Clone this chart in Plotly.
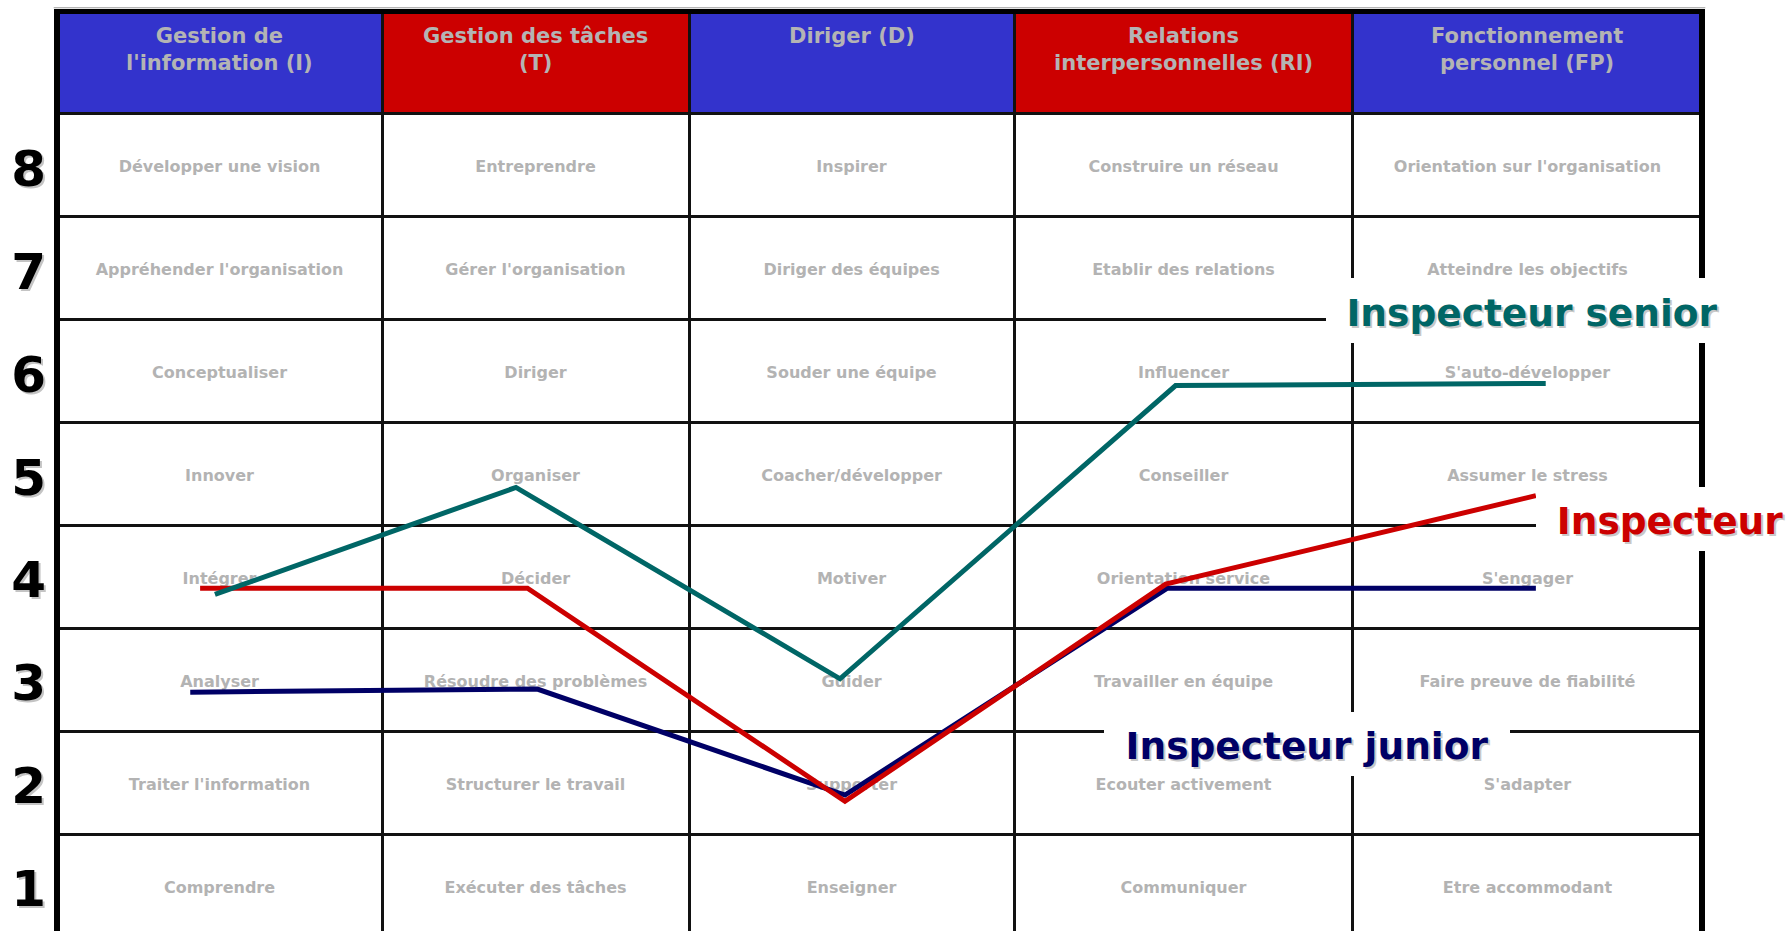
import plotly.graph_objects as go

# ---- data -------------------------------------------------------------
domains = [
    "Gestion de<br>l'information (I)",
    "Gestion des tâches<br>(T)",
    "Diriger (D)",
    "Relations<br>interpersonnelles (RI)",
    "Fonctionnement<br>personnel (FP)",
]

levels = [1, 2, 3, 4, 5, 6, 7, 8]
level_labels = ["1", "2", "3", "4", "5", "6", "7", "8"]

# skills per domain, from level 1 to level 8
skills_I = ["Comprendre", "Traiter l'information", "Analyser", "Intégrer", "Innover",
            "Conceptualiser", "Appréhender l'organisation", "Développer une vision"]
skills_T = ["Exécuter des tâches", "Structurer le travail", "Résoudre des problèmes", "Décider",
            "Organiser", "Diriger", "Gérer l'organisation", "Entreprendre"]
skills_D = ["Enseigner", "Supporter", "Guider", "Motiver", "Coacher/développer",
            "Souder une équipe", "Diriger des équipes", "Inspirer"]
skills_RI = ["Communiquer", "Ecouter activement", "Travailler en équipe", "Orientation service",
             "Conseiller", "Influencer", "Etablir des relations", "Construire un réseau"]
skills_FP = ["Etre accommodant", "S'adapter", "Faire preuve de fiabilité", "S'engager",
             "Assumer le stress", "S'auto-développer", "Atteindre les objectifs",
             "Orientation sur l'organisation"]

# profile lines: x in % of the table width, y in levels
senior_x = [9.6, 27.9, 47.6, 68.0, 90.5]
senior_y = [3.83, 4.87, 3.01, 5.86, 5.88]

inspecteur_x = [8.7, 28.6, 47.9, 67.4, 89.9]
inspecteur_y = [3.89, 3.89, 1.82, 3.93, 4.79]

junior_x = [8.1, 29.2, 47.9, 67.5, 89.9]
junior_y = [2.88, 2.91, 1.88, 3.89, 3.89]

# ---- layout constants ---------------------------------------------------
col_edges = [0, 19.76, 38.42, 58.18, 78.78, 100]
col_centers = [(a + b) / 2 for a, b in zip(col_edges[:-1], col_edges[1:])]
header_colors = ["#3333cc", "#cc0000", "#3333cc", "#cc0000", "#3333cc"]
Y_RANGE = [0.559, 9.5]
# the cell captions sit a touch lower than the raw glyph centring
TEXT_NUDGE = 0.028
TEXT_RANGE = [Y_RANGE[0] + TEXT_NUDGE, Y_RANGE[1] + TEXT_NUDGE]
FONT = "DejaVu Sans"
CELL_GREY = "#b3b3b3"

fig = go.Figure()

# skill names in every cell (own overlaid axis, drawn under the lines)
all_skills = [skills_I, skills_T, skills_D, skills_RI, skills_FP]
cx, cy, ct = [], [], []
for c, col in enumerate(all_skills):
    for lv, name in zip(levels, col):
        cx.append(col_centers[c])
        cy.append(lv)
        ct.append(name)
fig.add_trace(go.Scatter(
    x=cx, y=cy, text=ct, mode="text", textposition="middle center", yaxis="y2",
    textfont=dict(family=FONT, size=16, color=CELL_GREY, weight="bold"),
    hoverinfo="skip", showlegend=False, cliponaxis=False,
))

# profile lines
for xs, ys, color in [
    (junior_x, junior_y, "#000066"),
    (inspecteur_x, inspecteur_y, "#cc0000"),
    (senior_x, senior_y, "#006666"),
]:
    fig.add_trace(go.Scatter(
        x=xs, y=ys, mode="lines", line=dict(color=color, width=5), yaxis="y3",
        hoverinfo="skip", showlegend=False,
    ))

shapes = []
# header fills
for c in range(5):
    shapes.append(dict(type="rect", xref="x", yref="y", layer="below",
                       x0=col_edges[c], x1=col_edges[c + 1], y0=8.5, y1=9.5,
                       fillcolor=header_colors[c], line=dict(width=0)))
# outer frame
shapes.append(dict(type="line", xref="paper", yref="paper", layer="above",
                   x0=-0.002, x1=1.002, y0=1.0035, y1=1.0035,
                   line=dict(color="#999999", width=1)))
shapes.append(dict(type="line", xref="paper", yref="paper", layer="above",
                   x0=-0.0018, x1=1.0018, y0=0.9995, y1=0.9995,
                   line=dict(color="black", width=5)))
shapes.append(dict(type="line", xref="paper", yref="paper", layer="above",
                   x0=0, x1=0, y0=-0.01, y1=1.002,
                   line=dict(color="black", width=6)))
shapes.append(dict(type="line", xref="paper", yref="paper", layer="above",
                   x0=1, x1=1, y0=-0.01, y1=1.002,
                   line=dict(color="black", width=6)))

annotations = []
# column headers
for c, name in enumerate(domains):
    annotations.append(dict(
        x=col_centers[c], y=9.5, xref="x", yref="y", yanchor="top", yshift=-11,
        text=name, showarrow=False, align="center",
        font=dict(family=FONT, size=21, color="#b4b4b4", weight="bold"),
    ))

# series labels on white boxes, with a soft grey drop shadow
for text, x, y, w, h, color in [
    ("Inspecteur senior", 89.67, 6.589, 412, 65, "#006666"),
    ("Inspecteur", 98.05, 4.563, 268, 64, "#cc0000"),
    ("Inspecteur junior", 75.99, 2.377, 406, 64, "#000066"),
]:
    annotations.append(dict(
        x=x, y=y, xref="x", yref="y", text=" ", showarrow=False,
        width=w, height=h, bgcolor="white", borderpad=0, borderwidth=0,
        font=dict(family=FONT, size=37.5, color="white"),
    ))
    annotations.append(dict(
        x=x, y=y, xref="x", yref="y", text=text, showarrow=False,
        width=w, height=h, borderpad=0, borderwidth=0, xshift=2, yshift=-4,
        font=dict(family=FONT, size=37.5, color="#c8c8c8", weight="bold"),
    ))
    annotations.append(dict(
        x=x, y=y, xref="x", yref="y", text=text, showarrow=False,
        width=w, height=h, borderpad=0, borderwidth=0, yshift=-2,
        font=dict(family=FONT, size=37.5, color=color, weight="bold"),
    ))

level_axis = dict(
    tickmode="array", tickvals=levels, ticktext=level_labels,
    ticks="", showgrid=False, zeroline=False, showline=False, fixedrange=True,
)

fig.update_layout(
    width=1789, height=931,
    margin=dict(l=57, r=87, t=11, b=0, pad=0),
    paper_bgcolor="white", plot_bgcolor="white",
    shapes=shapes, annotations=annotations,
    xaxis=dict(
        range=[0, 100], tickmode="array", tickvals=col_edges,
        showticklabels=False, ticks="", showgrid=True,
        gridcolor="#111111", gridwidth=2.5, zeroline=False, showline=False,
        fixedrange=True,
    ),
    # grid rows and the drop shadow of the level numbers
    yaxis=dict(
        level_axis, range=Y_RANGE,
        tickfont=dict(family=FONT, size=50, color="#c4c4c4", weight="bold"),
        ticklabelstandoff=8, ticklabelshift=5,
        minor=dict(tickmode="array", tickvals=[1.5, 2.5, 3.5, 4.5, 5.5, 6.5, 7.5, 8.5],
                   showgrid=True, gridcolor="#111111", gridwidth=3, ticks=""),
    ),
    # axis carrying the cell captions
    yaxis2=dict(
        level_axis, overlaying="y", anchor="x", side="left", range=TEXT_RANGE,
        showticklabels=False,
    ),
    # level numbers, and the profile lines
    yaxis3=dict(
        level_axis, overlaying="y", anchor="x", side="left", range=Y_RANGE,
        tickfont=dict(family=FONT, size=50, color="black", weight="bold"),
        ticklabelstandoff=10, ticklabelshift=3,
    ),
)

fig.write_html("out.html")
